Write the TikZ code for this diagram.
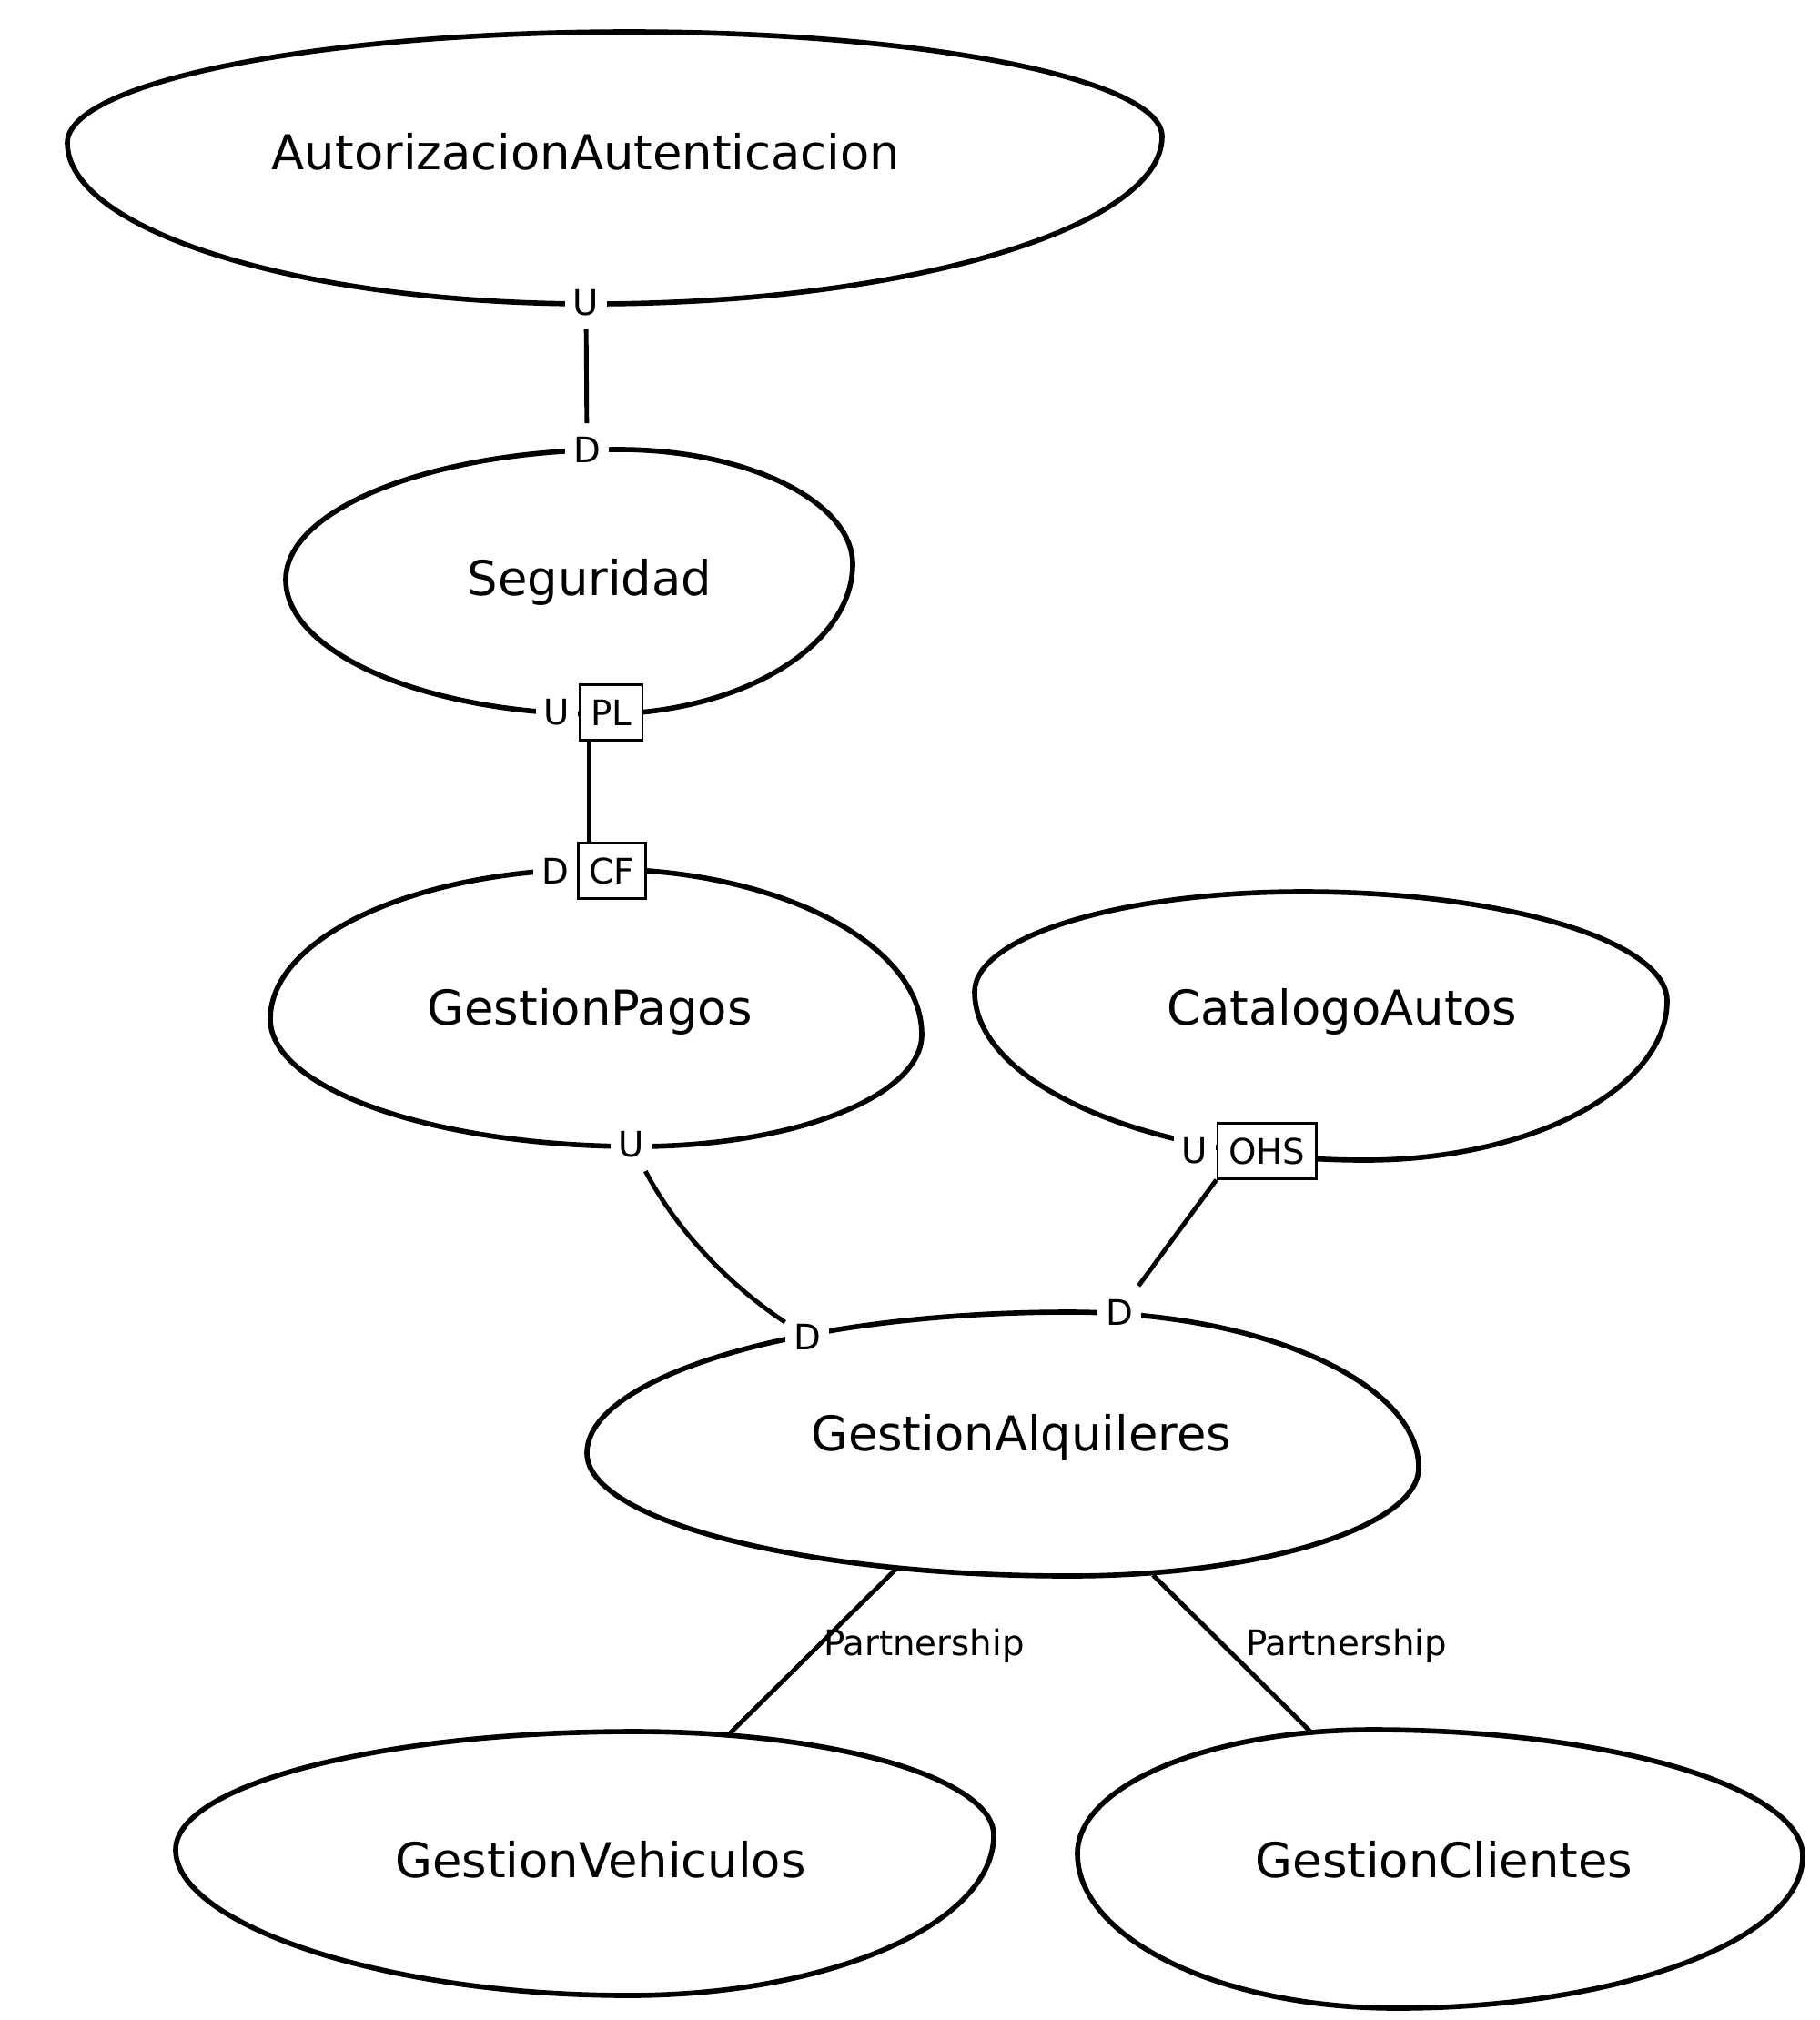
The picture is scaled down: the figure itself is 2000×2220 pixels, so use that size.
\documentclass[tikz,border=0pt]{standalone}
\usepackage{fontspec}
\setmainfont{DejaVu Sans}
\usetikzlibrary{positioning}

\tikzset{
  ctx/.style={line width=1.6pt},
  ctxname/.style={font=\fontsize{15}{18}\selectfont},
  role/.style={fill=white, inner xsep=2.5pt, inner ysep=4pt, font=\fontsize{11}{13}\selectfont},
  pattern/.style={draw, fill=white, line width=0.65pt, inner xsep=3.5pt, inner ysep=0pt, minimum height=0.61cm, font=\fontsize{11}{13}\selectfont},
  link/.style={line width=1.4pt},
  relname/.style={inner sep=1pt, font=\fontsize{11}{13}\selectfont}
}

\begin{document}
\begin{tikzpicture}[x=0.01cm, y=-0.01cm]
    \useasboundingbox (0,0) rectangle (2000,2220);

    % bounded contexts
    \draw [ctx] (74,157) .. controls +(0,-67) and +(-340,0) .. (692,35)
        .. controls +(322,0) and +(0,-63) .. (1277,150)
        .. controls +(0,101) and +(345,0) .. (650,334)
        .. controls +(-317,0) and +(0,97) .. (74,157) -- cycle;
    \draw [ctx] (314,637) .. controls +(0,-79) and +(-201,0) .. (680,494)
        .. controls +(141,0) and +(0,-69) .. (937,620)
        .. controls +(0,91) and +(152,0) .. (660,785)
        .. controls +(-190,0) and +(0,81) .. (314,637) -- cycle;
    \draw [ctx] (297,1120) .. controls +(0,-91) and +(-200,0) .. (660,955)
        .. controls +(194,0) and +(0,-100) .. (1013,1137)
        .. controls +(0,68) and +(172,0) .. (700,1260)
        .. controls +(-222,0) and +(0,77) .. (297,1120) -- cycle;
    \draw [ctx] (1071,1090) .. controls +(0,-61) and +(-199,0) .. (1432,980)
        .. controls +(220,0) and +(0,-66) .. (1832,1100)
        .. controls +(0,96) and +(183,0) .. (1500,1275)
        .. controls +(-236,0) and +(0,102) .. (1071,1090) -- cycle;
    \draw [ctx] (645,1597) .. controls +(0,-85) and +(-292,0) .. (1175,1442)
        .. controls +(211,0) and +(0,-94) .. (1559,1613)
        .. controls +(0,65) and +(211,0) .. (1175,1732)
        .. controls +(-292,0) and +(0,74) .. (645,1597) -- cycle;
    \draw [ctx] (193,2033) .. controls +(0,-72) and +(-277,0) .. (697,1903)
        .. controls +(217,0) and +(0,-63) .. (1092,2017)
        .. controls +(0,97) and +(221,0) .. (691,2193)
        .. controls +(-274,0) and +(0,80) .. (193,2033) -- cycle;
    \draw [ctx] (1184,2037) .. controls +(0,-75) and +(-178,0) .. (1508,1901)
        .. controls +(260,0) and +(0,-76) .. (1981,2040)
        .. controls +(0,92) and +(245,0) .. (1535,2207)
        .. controls +(-193,0) and +(0,94) .. (1184,2037) -- cycle;

    \node [ctxname] (auth) at (644,167) {AutorizacionAutenticacion};
    \node [ctxname] (seg) at (648,640) {Seguridad};
    \node [ctxname] (pagos) at (648,1112) {GestionPagos};
    \node [ctxname] (catalogo) at (1475,1112) {CatalogoAutos};
    \node [ctxname] (alquileres) at (1122,1580) {GestionAlquileres};
    \node [ctxname] (vehiculos) at (660,2044) {GestionVehiculos};
    \node [ctxname] (clientes) at (1587,2044) {GestionClientes};

    % upstream / downstream roles
    \node [role] (authU) at (644,333) {U};
    \node [role] (segD) at (645,494) {D};
    \node [role] (segU) at (612,783) {U};
    \node [pattern, right=0pt of segU] (segPL) {PL};
    \node [role] (pagosD) at (610,957) {D};
    \node [pattern, right=0pt of pagosD] (pagosCF) {CF};
    \node [role] (pagosU) at (694,1258) {U};
    \node [role] (alqD1) at (887,1469) {D};
    \node [role] (catU) at (1313,1265) {U};
    \node [pattern, right=0pt of catU] (catOHS) {OHS};
    \node [role] (alqD2) at (1230,1442) {D};

    \coordinate (alqP1) at (986,1723);
    \coordinate (vehP) at (801,1906);
    \coordinate (alqP2) at (1267,1731);
    \coordinate (cliP) at (1441,1904);

    % relationships
    \draw [link] (authU) -- (segD);
    \draw [link] ([xshift=0.12cm]segPL.south west) coordinate (plfoot) -- (plfoot |- pagosCF.north);
    \draw [link] (pagosU) .. controls (745,1355) and (805,1415) .. (alqD1);
    \draw [link] (catOHS.south west) -- (alqD2);
    \draw [link] (alqP1) -- node [relname, pos=0.47, anchor=west] {Partnership} (vehP);
    \draw [link] (alqP2) -- node [relname, pos=0.45, anchor=west, xshift=0.18cm] {Partnership} (cliP);
\end{tikzpicture}
\end{document}
